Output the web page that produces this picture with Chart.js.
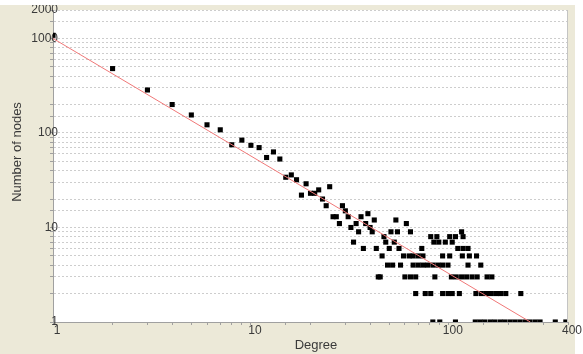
<!DOCTYPE html>
<html><head><meta charset="utf-8">
<style>html,body{margin:0;padding:0;background:#fff;overflow:hidden}</style>
<script src="https://cdn.jsdelivr.net/npm/chart.js@4/dist/chart.umd.min.js"></script>
</head><body>
<canvas id="c" width="583" height="354" style="display:block;width:583px;height:354px"></canvas>
<script>
// ---- data ----
const degrees = [
  1,2,3,4,5,6,7,8,9,10,11,12,13,14,15,16,17,18,19,20,21,22,23,24,25,26,27,28,29,30,
  31,32,33,34,35,36,37,38,39,40,41,42,43,44,45,46,47,48,49,50,51,52,53,54,55,56,57,59,60,61,
  63,64,64,66,66,68,68,70,70,73,74,74,76,78,81,81,83,83,84,85,87,88,89,90,93,93,93,96,99,99,
  101,101,103,104,104,108,108,109,111,113,116,116,117,118,118,123,125,125,127,131,136,137,138,139,144,145,146,152,155,156,
  162,164,165,171,174,182,183,192,194,204,216,229,231,243,257,273,289,345,390
];
const counts = [
  1080,480,285,200,155,122,108,75,84,74,70,55,63,53,34,36,32,22,29,23,23,25,20,17,27,13,13,11,17,15,
  13,10,7,11,9,13,6,11,14,10,9,12,6,3,3,5,8,7,4,6,9,4,7,12,9,6,4,5,3,11,
  5,9,3,5,4,3,2,5,4,6,5,4,2,4,2,8,4,1,7,3,8,4,7,1,5,4,2,7,4,2,
  5,8,3,7,2,8,1,3,6,2,9,3,5,8,6,3,6,4,5,3,1,2,5,3,1,4,2,1,2,3,
  1,2,3,1,2,1,2,1,2,1,1,1,2,1,1,1,1,1,1
];
const fitDegrees = [1, 258];
const fitCounts = [1000, 1];
const xLabelValues = [1, 10, 100, 400];
const yLabelValues = [1, 10, 100, 1000, 2000];
const xTitle = 'Degree';
const yTitle = 'Number of nodes';

// ---- styling ----
const BEIGE = '#ECE9D8';
const FONT = '"Liberation Sans", Arial, sans-serif';
const TEXT = '#3a3a3a';
const AXIS = '#a0a0a0';

const isLabel = (list, v) => list.some(t => Math.abs(t - v) / t < 1e-6);

const decor = {
  id: 'decor',
  beforeDraw(chart) {
    const ctx = chart.ctx, a = chart.chartArea;
    ctx.save();
    ctx.fillStyle = '#fff';
    ctx.fillRect(0, 0, chart.width, chart.height);
    ctx.fillStyle = BEIGE;
    ctx.fillRect(0, 5, 575, chart.height - 5);
    ctx.fillStyle = '#fff';
    ctx.fillRect(a.left, a.top, a.right - a.left, a.bottom - a.top);
    ctx.restore();
  },
  afterDraw(chart) {
    const ctx = chart.ctx, a = chart.chartArea;
    ctx.save();
    ctx.fillStyle = '#fff';
    ctx.fillRect(0, 0, chart.width, 5);
    ctx.strokeStyle = '#c4c4c4';
    ctx.lineWidth = 1;
    ctx.beginPath();
    ctx.moveTo(a.right - 0.5, a.top);
    ctx.lineTo(a.right - 0.5, a.bottom);
    ctx.stroke();
    ctx.fillStyle = TEXT;
    ctx.font = '13px ' + FONT;
    ctx.textAlign = 'center';
    ctx.textBaseline = 'middle';
    ctx.fillText(xTitle, 316, 345);
    ctx.translate(17, 152);
    ctx.rotate(-Math.PI / 2);
    ctx.fillText(yTitle, 0, 0);
    ctx.restore();
  }
};

new Chart(document.getElementById('c'), {
  type: 'scatter',
  data: {
    datasets: [
      {
        type: 'line',
        data: fitDegrees.map((d, i) => ({x: d, y: fitCounts[i]})),
        borderColor: 'rgb(240,120,120)',
        borderWidth: 1,
        pointRadius: 0,
        fill: false,
        clip: 0
      },
      {
        data: degrees.map((d, i) => ({x: d, y: counts[i]})),
        pointStyle: 'rect',
        pointRadius: 3.6,
        backgroundColor: '#000',
        borderWidth: 0,
        clip: 0
      }
    ]
  },
  options: {
    responsive: false,
    animation: false,
    devicePixelRatio: 1,
    layout: {padding: {left: 0, top: 10, right: 15, bottom: 0}},
    plugins: {legend: {display: false}, tooltip: {enabled: false}},
    scales: {
      x: {
        type: 'logarithmic',
        min: 1, max: 400,
        afterFit(s) { s.height = 32; },
        grid: {drawOnChartArea: false, tickLength: 3, color: AXIS, tickColor: AXIS},
        border: {color: AXIS},
        ticks: {
          autoSkip: false, maxRotation: 0, minRotation: 0,
          padding: -1.5, labelOffset: 4,
          color: TEXT, font: {family: FONT, size: 12},
          callback: v => isLabel(xLabelValues, v) ? String(v) : ''
        }
      },
      y: {
        type: 'logarithmic',
        min: 1, max: 2000,
        afterFit(s) { s.width = 53; s._computeLabelArea = () => undefined; },
        grid: {color: 'rgb(205,205,205)', tickLength: 3, tickColor: AXIS},
        border: {color: AXIS, dash: [2, 2]},
        ticks: {
          autoSkip: false, padding: -8,
          color: TEXT, font: {family: FONT, size: 12},
          callback: v => isLabel(yLabelValues, v) ? String(v) : ''
        }
      }
    }
  },
  plugins: [decor]
});
</script>
</body></html>
